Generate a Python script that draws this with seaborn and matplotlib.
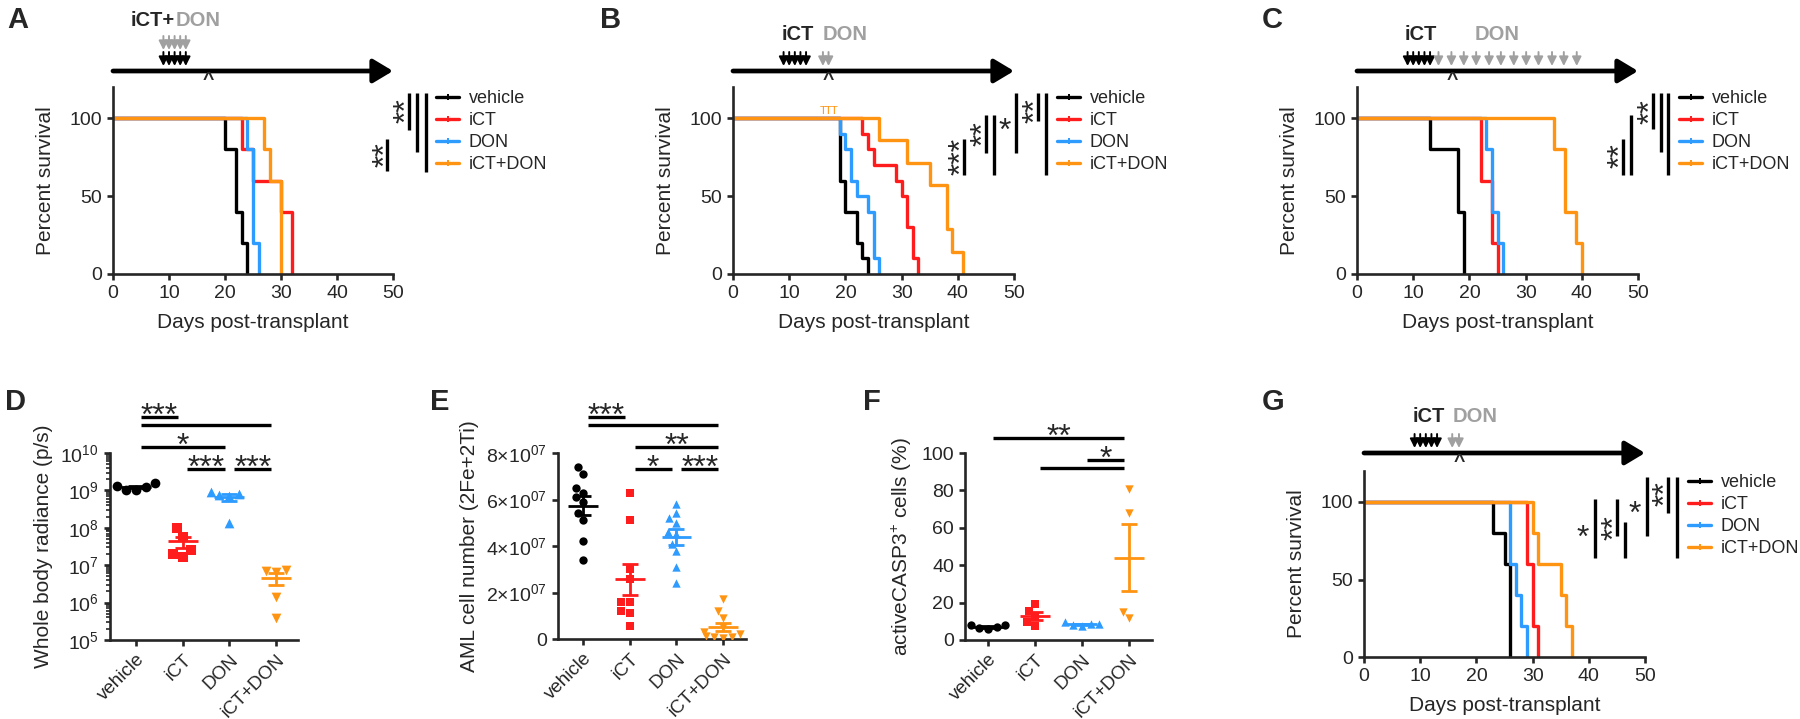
import numpy as np
import pandas as pd
import seaborn as sns
import matplotlib.pyplot as plt
from matplotlib.lines import Line2D
from matplotlib.ticker import LogLocator, NullFormatter

W, H = 1800, 719

groups = ['vehicle', 'iCT', 'DON', 'iCT+DON']
palette = {'vehicle': '#000000', 'iCT': '#ff1c1c', 'DON': '#2e9bff', 'iCT+DON': '#ff9412'}
marks = {'vehicle': 'o', 'iCT': 's', 'DON': '^', 'iCT+DON': 'v'}
grey = '#a0a0a0'

# survival: day of death for every mouse
deaths_a = {'vehicle': [20, 22, 22, 23, 24], 'iCT': [23, 25, 30, 32, 32],
            'DON': [24, 25, 25, 25, 26], 'iCT+DON': [27, 28, 30, 30, 30]}
deaths_b = {'vehicle': [19, 19, 19, 19, 20, 20, 22, 22, 23, 24],
            'iCT': [23, 24, 25, 29, 30, 31, 31, 32, 32, 33],
            'DON': [19, 20, 21, 21, 22, 24, 25, 25, 25, 26],
            'iCT+DON': [26, 31, 35, 38, 38, 39, 41]}
censored_b = {'iCT+DON': [16, 17, 18]}
deaths_c = {'vehicle': [13, 18, 18, 19, 19], 'iCT': [22, 22, 24, 24, 25],
            'DON': [23, 24, 24, 25, 26], 'iCT+DON': [35, 37, 37, 39, 40]}
deaths_g = {'vehicle': [23, 25, 26, 26, 26], 'iCT': [29, 29, 30, 30, 31],
            'DON': [26, 26, 27, 28, 29], 'iCT+DON': [30, 31, 35, 36, 37]}

# dosing schedule (days post-transplant)
ict_days = [9, 10, 11, 12, 13]
don_days_a = [9, 10, 11, 12, 13]
don_days_b = [16, 17]
don_days_c = [14.5, 16.8, 19, 21.2, 23.5, 25.6, 27.9, 30.1, 32.3, 34.7, 36.8, 39.1]
don_days_g = [15.7, 16.9]
analysis_day = 17

# D: whole body radiance (p/s)
radiance = {'vehicle': [1.35e9, 1.05e9, 1.0e9, 1.2e9, 1.55e9],
            'iCT': [9.6e7, 5.8e7, 2.5e7, 2.0e7, 1.7e7],
            'DON': [9.2e8, 7.4e8, 7.0e8, 8.0e8, 1.35e8],
            'iCT+DON': [7.5e6, 7.0e6, 6.5e6, 1.4e6, 3.8e5]}
# E: AML cell number
aml_cells = {'vehicle': [7.4e7, 7.1e7, 6.5e7, 6.3e7, 6.1e7, 5.9e7, 5.4e7, 5.1e7, 4.2e7, 3.4e7],
             'iCT': [6.3e7, 5.1e7, 3.0e7, 2.6e7, 1.6e7, 1.6e7, 1.2e7, 1.1e7, 0.57e7],
             'DON': [5.8e7, 5.4e7, 5.2e7, 5.0e7, 4.6e7, 4.5e7, 4.1e7, 3.8e7, 3.1e7, 2.4e7],
             'iCT+DON': [1.7e7, 1.2e7, 0.9e7, 0.5e7, 0.3e7, 0.2e7, 0.15e7, 0.1e7, 0.1e7, 0.05e7]}
# F: activeCASP3+ cells (%)
casp3 = {'vehicle': [6.0, 8.0, 8.2, 7.0, 6.3],
         'iCT': [19.5, 15.5, 12.5, 9.5, 7.5],
         'DON': [8.0, 9.5, 8.5, 7.5, 8.8],
         'iCT+DON': [81, 68, 15, 12]}

sns.set_style('ticks')
plt.rcParams['font.family'] = ['Liberation Sans', 'DejaVu Sans']
plt.rcParams['mathtext.fontset'] = 'custom'
plt.rcParams['mathtext.rm'] = 'Liberation Sans'
plt.rcParams['mathtext.it'] = 'Liberation Sans:italic'
plt.rcParams['axes.linewidth'] = 1.9
plt.rcParams['xtick.major.width'] = 1.9
plt.rcParams['ytick.major.width'] = 1.9
plt.rcParams['xtick.major.size'] = 4.5
plt.rcParams['ytick.major.size'] = 4.5
plt.rcParams['xtick.labelsize'] = 14
plt.rcParams['ytick.labelsize'] = 14
plt.rcParams['axes.labelsize'] = 15

fig = plt.figure(figsize=(W / 100, H / 100), dpi=100)


def box(l, r, t, b):
    return [l / W, 1 - b / H, (r - l) / W, (b - t) / H]


def km_frame(deaths, censored=None):
    censored = censored or {}
    rows = []
    for g in groups:
        d = np.array(deaths[g])
        c = np.array(censored.get(g, []))
        s = 100.0
        rows.append((g, 0, s))
        for t in np.unique(d):
            at_risk = (d >= t).sum() + (c >= t).sum()
            s *= 1 - (d == t).sum() / at_risk
            rows.append((g, t, s))
    return pd.DataFrame(rows, columns=['group', 'day', 'pct'])


def survival(pos, deaths, censored=None):
    ax = fig.add_axes(box(*pos))
    df = km_frame(deaths, censored)
    sns.lineplot(data=df, x='day', y='pct', hue='group', hue_order=groups, palette=palette,
                 drawstyle='steps-post', estimator=None, sort=False, lw=2.4, legend=False, ax=ax)
    ax.set_xlim(0, 50)
    ax.set_ylim(0, 120)
    ax.set_xticks([0, 10, 20, 30, 40, 50])
    ax.set_yticks([0, 50, 100])
    ax.set_xlabel('Days post-transplant', labelpad=8)
    ax.set_ylabel('Percent survival', labelpad=10)
    sns.despine(ax=ax)
    return ax


def timeline(ax, line_py, don_days, ict_x, don_x, combined=False):
    l, b, w, h = ax.get_position().bounds
    tl = fig.add_axes([l, 1 - (line_py + 15) / H, w, 85 / H])
    tl.set_xlim(0, 50)
    tl.set_ylim(15, -70)
    tl.axis('off')
    tl.annotate('', xy=(50, 0), xytext=(0, 0),
                arrowprops=dict(arrowstyle='-|>,head_length=1.0,head_width=0.6', lw=3.4,
                                color='k', shrinkA=0, shrinkB=0, mutation_scale=12))
    ict_top = -19
    don_top = -35 if combined else -19
    for d in ict_days:
        tl.annotate('', xy=(d, ict_top + 14), xytext=(d, ict_top),
                    arrowprops=dict(arrowstyle='-|>,head_length=0.6,head_width=0.3', lw=1.4,
                                    color='k', shrinkA=0, shrinkB=0, mutation_scale=9))
    for d in don_days:
        tl.annotate('', xy=(d, don_top + 14), xytext=(d, don_top),
                    arrowprops=dict(arrowstyle='-|>,head_length=0.6,head_width=0.3', lw=1.4,
                                    color=grey, shrinkA=0, shrinkB=0, mutation_scale=9))
    ty = -51 if combined else -36
    if combined:
        tl.text(ict_x, ty, 'iCT+', ha='right', va='center', fontsize=14.5, weight='bold')
    else:
        tl.text(ict_x, ty, 'iCT', ha='left', va='center', fontsize=14.5, weight='bold')
    tl.text(don_x, ty, 'DON', ha='left', va='center', fontsize=14.5, weight='bold', color=grey)
    tl.text(analysis_day, 10, '^', ha='center', va='center', fontsize=14, weight='bold')


def fig_line(x, y0, y1):
    fig.add_artist(Line2D([x / W, x / W], [1 - y0 / H, 1 - y1 / H], color='k', lw=2.4,
                          transform=fig.transFigure, solid_capstyle='butt'))


def fig_stars(x, y, s):
    # rotated stars, glyph centre at (x, y) in pixels
    if len(s) == 1:
        fig.text(x / W, 1 - (y + 17) / H, s, ha='center', va='baseline', fontsize=23)
    else:
        fig.text((x + 17) / W, 1 - y / H, s, ha='center', va='baseline', fontsize=23,
                 rotation=90, rotation_mode='anchor')


legend_handles = [Line2D([], [], color=palette[g], lw=2.4, marker='|', markersize=5,
                         markeredgewidth=1.4) for g in groups]


def survival_legend(x, y):
    fig.legend(legend_handles, groups, loc='upper left', bbox_to_anchor=(x / W, 1 - y / H),
               frameon=False, fontsize=13, handlelength=1.3, handletextpad=0.5,
               labelspacing=0.28, borderaxespad=0, borderpad=0)


def panel_label(x, y, s):
    fig.text(x / W, 1 - y / H, s, ha='left', va='top', fontsize=21, weight='bold')


# ---------------- A ----------------
ax_a = survival((113, 393, 87, 274), deaths_a)
timeline(ax_a, 71, don_days_a, 11.1, 11.1, combined=True)
for x, y0, y1 in [(387, 139, 171), (409, 93, 130), (417, 93, 152), (426, 93, 172)]:
    fig_line(x, y0, y1)
fig_stars(377, 155, '**')
fig_stars(398, 111, '**')
survival_legend(436, 90)

# ---------------- B ----------------
ax_b = survival((733, 1014, 87, 274), deaths_b, censored_b)
for d in censored_b['iCT+DON']:
    ax_b.text(d, 101.5, 'T', ha='center', va='bottom', fontsize=8,
              color=palette['iCT+DON'])
timeline(ax_b, 71, don_days_b, 8.7, 16)
for x, y0, y1 in [(964, 139, 175), (986, 115, 153), (994, 115, 175), (1016, 93, 153),
                  (1038, 93, 121), (1046, 93, 175)]:
    fig_line(x, y0, y1)
fig_stars(953, 156, '***')
fig_stars(975, 134, '**')
fig_stars(1005, 123, '*')
fig_stars(1027, 111, '**')
survival_legend(1057, 90)

# ---------------- C ----------------
ax_c = survival((1357, 1638, 87, 274), deaths_c)
timeline(ax_c, 71, don_days_c, 8.4, 21)
for x, y0, y1 in [(1623, 139, 175), (1631, 115, 175), (1653, 93, 129), (1661, 93, 152),
                  (1668, 93, 175)]:
    fig_line(x, y0, y1)
fig_stars(1612, 156, '**')
fig_stars(1642, 112, '**')
survival_legend(1679, 90)

# ---------------- G ----------------
ax_g = survival((1364, 1645, 471, 657), deaths_g)
timeline(ax_g, 453, don_days_g, 8.7, 15.8)
for x, y0, y1 in [(1595, 499, 558), (1617, 499, 536), (1625, 522, 558), (1647, 477, 536),
                  (1668, 477, 513), (1677, 477, 558)]:
    fig_line(x, y0, y1)
fig_stars(1583, 530, '*')
fig_stars(1606, 528, '**')
fig_stars(1635, 506, '*')
fig_stars(1657, 494, '**')
survival_legend(1688, 474)


# ---------------- D, E, F ----------------
def dot_panel(pos, values, xlim, ylabel, size, log=False):
    ax = fig.add_axes(box(*pos))
    if log:
        ax.set_yscale('log')
    df = pd.DataFrame([(g, v) for g in groups for v in values[g]], columns=['group', 'value'])
    for g in groups:
        sns.swarmplot(data=df[df.group == g], x='group', y='value', order=groups,
                      color=palette[g], marker=marks[g], size=size, ax=ax)
    st = df.groupby('group')['value'].agg(['mean', 'sem']).reindex(groups)
    for i, g in enumerate(groups):
        m, s = st.loc[g, 'mean'], st.loc[g, 'sem']
        ax.hlines(m, i - 0.32, i + 0.32, color=palette[g], lw=2)
        ax.errorbar(i, m, yerr=s, color=palette[g], capsize=6, capthick=2, lw=2)
    ax.set_xlim(*xlim)
    ax.set_xlabel('')
    ax.set_ylabel(ylabel, labelpad=5)
    ax.tick_params(axis='x', labelrotation=45, labelsize=13.5)
    for t in ax.get_xticklabels():
        t.set_ha('right')
        t.set_rotation_mode('anchor')
    sns.despine(ax=ax)
    return ax


def sig_bars(ax, bottom_px, top_px, comps):
    tr = ax.get_xaxis_transform()
    for g1, g2, py, label in comps:
        i, j = groups.index(g1), groups.index(g2)
        yf = (bottom_px - py) / (bottom_px - top_px)
        ax.plot([i + 0.1, j - 0.1], [yf, yf], color='k', lw=2.4, transform=tr, clip_on=False,
                solid_capstyle='butt')
        if label:
            yt = (bottom_px - (py - 9 + 17)) / (bottom_px - top_px)
            ax.text((i + j) / 2, yt, label, ha='center', va='baseline', fontsize=23,
                    transform=tr, clip_on=False)


ax_d = dot_panel((110, 298, 453, 640), radiance, (-0.56, 3.47), 'Whole body radiance (p/s)', 7,
                 log=True)
ax_d.set_ylim(1e5, 1e10)
ax_d.yaxis.set_major_locator(LogLocator(base=10, numticks=10))
ax_d.yaxis.set_minor_locator(LogLocator(base=10, subs=np.arange(2, 10), numticks=20))
ax_d.yaxis.set_minor_formatter(NullFormatter())
ax_d.tick_params(axis='y', which='minor', length=3, width=1.2)
sig_bars(ax_d, 640, 453, [('vehicle', 'iCT', 417, '***'), ('vehicle', 'iCT+DON', 425, ''),
                          ('vehicle', 'DON', 447, '*'), ('iCT', 'DON', 469, '***'),
                          ('DON', 'iCT+DON', 469, '***')])

ax_e = dot_panel((558, 746, 453, 639), aml_cells, (-0.54, 3.49), 'AML cell number (2Fe+2Ti)', 6)
ax_e.set_ylim(0, 8e7)
ax_e.set_yticks([0, 2e7, 4e7, 6e7, 8e7])
ax_e.set_yticklabels(['0', r'2×10$^{07}$', r'4×10$^{07}$', r'6×10$^{07}$', r'8×10$^{07}$'])
sig_bars(ax_e, 639, 453, [('vehicle', 'iCT', 417, '***'), ('vehicle', 'iCT+DON', 425, ''),
                          ('iCT', 'iCT+DON', 447, '**'), ('iCT', 'DON', 469, '*'),
                          ('DON', 'iCT+DON', 469, '***')])

ax_f = dot_panel((965, 1152, 453, 640), casp3, (-0.49, 3.49), r'activeCASP3$^{+}$ cells (%)', 6)
ax_f.set_ylim(0, 100)
ax_f.set_yticks([0, 20, 40, 60, 80, 100])
sig_bars(ax_f, 640, 453, [('vehicle', 'iCT+DON', 438, '**'), ('DON', 'iCT+DON', 460, '*'),
                          ('iCT', 'iCT+DON', 468, '')])

for x, y, s in [(7, 6, 'A'), (600, 6, 'B'), (1262, 6, 'C'), (5, 388, 'D'), (430, 388, 'E'),
                (863, 388, 'F'), (1262, 388, 'G')]:
    panel_label(x, y, s)

fig.savefig('out.png', dpi=100)
